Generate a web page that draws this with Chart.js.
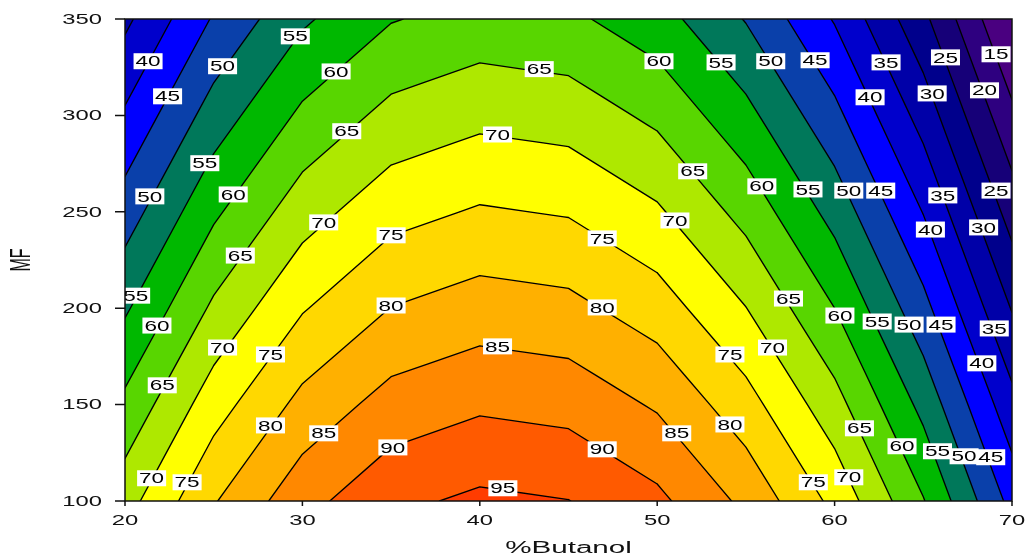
<!DOCTYPE html>
<html>
<head>
<meta charset="utf-8">
<script src="https://cdn.jsdelivr.net/npm/chart.js@4.4.0/dist/chart.umd.min.js"></script>
<style>
  body { margin: 0; background: #fff; }
  #wrap { width: 1027px; height: 556px; }
</style>
</head>
<body>
<div id="wrap"><canvas id="contour-chart" width="1027" height="556"></canvas></div>
<script>
const butanol = [20, 25, 30, 35, 40, 45, 50, 55, 60, 65, 70];
const mf = [100, 150, 200, 250, 300, 350];
// response, one row per MF value
const response = [
    [68.0, 79.6, 88.3, 93.8, 96.0, 95.1, 91.2, 83.8, 73.7, 60.3, 43.4],
    [61.2, 72.8, 81.5, 87.0, 89.2, 88.3, 84.4, 77.0, 66.9, 53.5, 36.6],
    [54.3, 65.9, 74.6, 80.1, 82.3, 81.4, 77.5, 70.1, 60.0, 46.6, 29.7],
    [47.5, 59.1, 67.8, 73.3, 75.5, 74.6, 70.7, 63.3, 53.2, 39.8, 22.9],
    [40.7, 52.3, 61.0, 66.5, 68.7, 67.8, 63.9, 56.5, 46.4, 33.0, 16.1],
    [33.9, 45.5, 54.2, 59.7, 61.9, 61.0, 57.1, 49.7, 39.6, 26.2, 9.3]
];
const levels = [15, 20, 25, 30, 35, 40, 45, 50, 55, 60, 65, 70, 75, 80, 85, 90, 95];
const bandColors = ["#4a0080", "#2e0080", "#160078", "#00008c", "#0000a8", "#0000cc",
    "#0000ff", "#0a40aa", "#00785a", "#00b800", "#58d600", "#aee800",
    "#ffff00", "#ffd800", "#ffb000", "#ff8800", "#ff5a00", "#ff3c00"];
const xTicks = [20, 30, 40, 50, 60, 70];
const yTicks = [100, 150, 200, 250, 300, 350];
// [level, %Butanol, MF] where each contour label sits
const labelSpots = [
    [40, 21.3, 328.1], [50, 25.5, 325.5], [55, 29.6, 341.0], [60, 31.9, 322.8], [45, 22.4, 309.9],
    [65, 43.35, 324.0], [60, 50.1, 328.1], [55, 53.6, 327.5], [50, 56.4, 328.1], [45, 58.9, 328.6],
    [35, 62.9, 327.5], [25, 66.25, 330.1], [15, 69.1, 331.7], [40, 62.0, 309.4], [30, 65.5, 311.4],
    [20, 68.45, 313.0], [65, 32.5, 291.8], [70, 41.0, 290.1], [55, 24.5, 275.2], [65, 52.0, 271.0],
    [60, 55.9, 263.2], [55, 58.5, 261.6], [50, 60.8, 261.0], [45, 62.6, 261.0], [35, 66.1, 258.5],
    [25, 69.1, 261.0], [50, 21.4, 258.0], [60, 26.1, 259.0], [70, 31.2, 244.5], [75, 35.0, 237.8],
    [75, 46.9, 236.2], [70, 51.0, 245.5], [40, 65.4, 240.8], [30, 68.4, 241.9], [65, 26.5, 227.3],
    [55, 20.6, 206.5], [80, 35.0, 201.4], [80, 46.9, 200.4], [65, 57.4, 205.0], [60, 60.3, 196.2],
    [55, 62.4, 193.1], [50, 64.2, 191.5], [45, 66.0, 191.5], [35, 69.0, 189.5], [60, 21.8, 191.0],
    [70, 25.5, 179.6], [75, 28.2, 176.0], [85, 41.0, 180.2], [75, 54.1, 176.0], [70, 56.5, 179.6],
    [40, 68.3, 171.4], [65, 22.1, 160.0], [80, 28.2, 139.2], [85, 31.2, 135.1], [90, 35.1, 127.8],
    [90, 46.9, 126.8], [85, 51.1, 135.1], [80, 54.1, 139.7], [65, 61.4, 137.7], [60, 63.8, 128.4],
    [55, 65.8, 125.8], [50, 67.3, 123.2], [45, 68.8, 122.7], [70, 21.5, 111.8], [75, 23.5, 109.7],
    [95, 41.3, 106.6], [75, 58.8, 109.7], [70, 60.8, 112.3]
];

const FONT = '"Liberation Sans", Arial, sans-serif';

function cellTriangles() {
    const tris = [];
    const node = (i, j) => ({ x: butanol[i], y: mf[j], v: response[j][i] });
    for (let j = 0; j < mf.length - 1; j++) {
        for (let i = 0; i < butanol.length - 1; i++) {
            const a = node(i, j), b = node(i + 1, j), c = node(i + 1, j + 1), d = node(i, j + 1);
            tris.push([a, b, c], [a, c, d]);
        }
    }
    return tris;
}

function lerp(a, b, level) {
    const t = (level - a.v) / (b.v - a.v);
    return { x: a.x + t * (b.x - a.x), y: a.y + t * (b.y - a.y), v: level };
}

// part of a triangle where the response is >= level
function clipAbove(poly, level) {
    const out = [];
    poly.forEach((a, k) => {
        const b = poly[(k + 1) % poly.length];
        const ina = a.v >= level, inb = b.v >= level;
        if (ina) out.push(a);
        if (ina !== inb) out.push(lerp(a, b, level));
    });
    return out;
}

function stretchedText(ctx, txt, px, py, sx, align) {
    ctx.save();
    ctx.translate(px, py);
    ctx.scale(sx, 1);
    ctx.textAlign = align;
    ctx.textBaseline = 'middle';
    ctx.fillText(txt, 0, 0);
    ctx.restore();
}

const contourPlugin = {
    id: 'contour-fill',
    afterDraw(chart) {
        const { ctx, chartArea: area, scales: { x, y } } = chart;
        const tris = cellTriangles();
        const toPx = q => [x.getPixelForValue(q.x), y.getPixelForValue(q.y)];

        ctx.save();
        ctx.beginPath();
        ctx.rect(area.left, area.top, area.width, area.height);
        ctx.clip();

        ctx.fillStyle = bandColors[0];
        ctx.fillRect(area.left, area.top, area.width, area.height);
        levels.forEach((lv, n) => {
            ctx.beginPath();
            tris.forEach(t => {
                const poly = clipAbove(t, lv);
                if (poly.length < 3) return;
                poly.forEach((q, k) => {
                    const [px, py] = toPx(q);
                    if (k) ctx.lineTo(px, py); else ctx.moveTo(px, py);
                });
                ctx.closePath();
            });
            ctx.fillStyle = bandColors[n + 1];
            ctx.fill();
        });

        // contour lines
        ctx.beginPath();
        levels.forEach(lv => {
            tris.forEach(t => {
                const cut = [];
                t.forEach((a, k) => {
                    const b = t[(k + 1) % 3];
                    if ((a.v >= lv) !== (b.v >= lv)) cut.push(lerp(a, b, lv));
                });
                if (cut.length === 2) {
                    ctx.moveTo(...toPx(cut[0]));
                    ctx.lineTo(...toPx(cut[1]));
                }
            });
        });
        ctx.strokeStyle = '#000';
        ctx.lineWidth = 1.35;
        ctx.lineCap = 'round';
        ctx.stroke();

        // labels on the contours
        ctx.font = '15px ' + FONT;
        labelSpots.forEach(([lv, bx, my]) => {
            const px = x.getPixelForValue(bx), py = y.getPixelForValue(my);
            const txt = String(lv);
            const w = ctx.measureText(txt).width * 1.5 + 4;
            ctx.fillStyle = '#fff';
            ctx.fillRect(px - w / 2, py - 8, w, 16);
            ctx.fillStyle = '#000';
            stretchedText(ctx, txt, px, py + 1, 1.5, 'center');
        });
        ctx.restore();

        // frame and ticks
        ctx.save();
        ctx.strokeStyle = '#111';
        ctx.lineWidth = 1.5;
        ctx.strokeRect(area.left, area.top, area.width, area.height);
        ctx.beginPath();
        yTicks.forEach(v => {
            const py = y.getPixelForValue(v);
            ctx.moveTo(area.left - 10, py);
            ctx.lineTo(area.left, py);
        });
        xTicks.forEach(v => {
            const px = x.getPixelForValue(v);
            ctx.moveTo(px, area.bottom);
            ctx.lineTo(px, area.bottom + 5);
        });
        ctx.stroke();

        ctx.fillStyle = '#111';
        ctx.font = '14px ' + FONT;
        yTicks.forEach(v => stretchedText(ctx, String(v), area.left - 23, y.getPixelForValue(v) + 1, 1.7, 'right'));
        xTicks.forEach(v => stretchedText(ctx, String(v), x.getPixelForValue(v), area.bottom + 20, 1.7, 'center'));

        ctx.font = '16px ' + FONT;
        stretchedText(ctx, '%Butanol', (area.left + area.right) / 2, 549, 1.85, 'center');
        ctx.translate(21.5, (area.top + area.bottom) / 2);
        ctx.rotate(-Math.PI / 2);
        ctx.scale(1, 1.85);
        ctx.textAlign = 'center';
        ctx.textBaseline = 'middle';
        ctx.fillText('MF', 0, 0);
        ctx.restore();
    }
};

new Chart(document.getElementById('contour-chart'), {
    type: 'scatter',
    data: { datasets: [] },
    options: {
        responsive: false,
        animation: false,
        devicePixelRatio: 1,
        layout: { padding: { left: 125, right: 15, top: 19, bottom: 55 } },
        scales: {
            x: { type: 'linear', min: 20, max: 70, display: false },
            y: { type: 'linear', min: 100, max: 350, display: false }
        },
        plugins: {
            legend: { display: false },
            tooltip: { enabled: false }
        }
    },
    plugins: [contourPlugin]
});
</script>
</body>
</html>
